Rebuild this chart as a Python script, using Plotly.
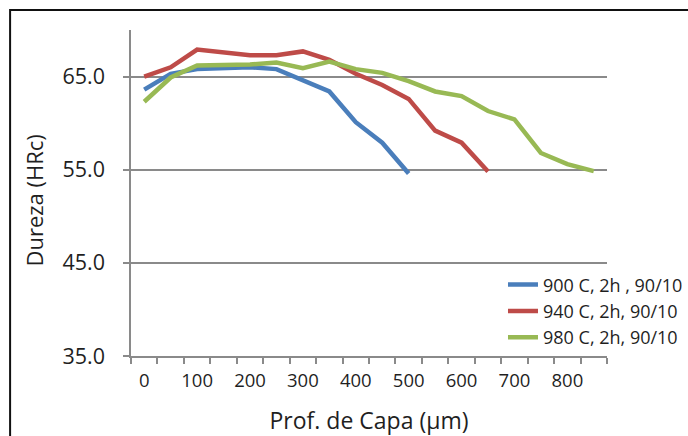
import plotly.graph_objects as go

# Profundidad de capa (µm) para cada tratamiento
depth_900 = [0, 50, 100, 150, 200, 250, 300, 350, 400, 450, 500]
depth_940 = [0, 50, 100, 150, 200, 250, 300, 350, 400, 450, 500, 550, 600, 650]
depth_980 = [0, 50, 100, 150, 200, 250, 300, 350, 400, 450, 500, 550, 600, 650,
             700, 750, 800, 850]

# Dureza (HRc)
hard_900 = [63.6, 65.3, 65.8, 65.9, 66.0, 65.8, 64.6, 63.4, 60.1, 57.9, 54.6]
hard_940 = [65.0, 66.0, 67.9, 67.6, 67.3, 67.3, 67.7, 66.8, 65.3, 64.1, 62.6,
            59.2, 57.9, 54.8]
hard_980 = [62.3, 64.9, 66.2, 66.2, 66.3, 66.5, 65.9, 66.6, 65.8, 65.4, 64.5,
            63.4, 62.9, 61.3, 60.4, 56.8, 55.6, 54.85]

series_names = ["900 C, 2h , 90/10", "940 C, 2h, 90/10", "980 C, 2h, 90/10"]
series_colors = ["#4A7EBB", "#BE4B48", "#98B954"]

x_tick_values = [0, 100, 200, 300, 400, 500, 600, 700, 800]
x_tick_labels = ["0", "100", "200", "300", "400", "500", "600", "700", "800"]
y_tick_values = [35, 45, 55, 65]

FONT = "Open Sans"
AXIS_GREY = "#8A8A8A"
TEXT = "#1F1F1F"

fig = go.Figure()
for xs, ys, name, color in zip([depth_900, depth_940, depth_980],
                               [hard_900, hard_940, hard_980],
                               series_names, series_colors):
    fig.add_trace(go.Scatter(x=xs, y=ys, name=name, mode="lines",
                             line=dict(color=color, width=4.5)))

fig.update_layout(
    width=688, height=436,
    margin=dict(l=131, r=81, t=30, b=80, autoexpand=False),
    paper_bgcolor="white", plot_bgcolor="white",
    font=dict(family=FONT, color=TEXT),
    showlegend=True,
    legend=dict(x=0.7815, y=0.275, xanchor="left", yanchor="top",
                bgcolor="rgba(0,0,0,0)", font=dict(size=18, family=FONT, color=TEXT),
                itemwidth=30, tracegroupgap=0),
    xaxis=dict(
        range=[-25, 875], tickmode="array", tickvals=x_tick_values,
        ticktext=x_tick_labels, ticks="", showgrid=False, zeroline=False,
        showline=True, linecolor=AXIS_GREY, linewidth=1.5,
        tickfont=dict(size=18.5, family=FONT, color=TEXT), ticklabelstandoff=7,
        minor=dict(tickmode="linear", tick0=-25, dtick=50, ticks="outside",
                   ticklen=6, tickwidth=1.5, tickcolor=AXIS_GREY, showgrid=False),
        title=dict(text="Prof. de Capa (µm)", font=dict(size=23, family=FONT, color=TEXT),
                   standoff=24),
        automargin=False,
        fixedrange=True,
    ),
    yaxis=dict(
        range=[35, 70], tickmode="array", tickvals=y_tick_values,
        tickformat=".1f", ticks="outside", ticklen=6, tickwidth=1.5,
        tickcolor=AXIS_GREY, showgrid=True, gridcolor=AXIS_GREY, gridwidth=1.5,
        zeroline=False, showline=True, linecolor=AXIS_GREY, linewidth=1.5,
        tickfont=dict(size=21.5, family=FONT, color=TEXT), ticklabelstandoff=14,
        automargin=False,
        fixedrange=True,
    ),
    annotations=[dict(text="Dureza (HRc)", xref="paper", yref="paper",
                      x=-0.203, y=0.478, textangle=-90, showarrow=False,
                      xanchor="center", yanchor="middle",
                      font=dict(size=22, family=FONT, color=TEXT))],
    shapes=[dict(type="rect", xref="paper", yref="paper",
                 x0=-0.254, y0=-0.3, x1=1.2, y1=1.0613,
                 line=dict(color="#111111", width=2), fillcolor="rgba(0,0,0,0)",
                 layer="below")],
)

fig.write_html("out.html")
